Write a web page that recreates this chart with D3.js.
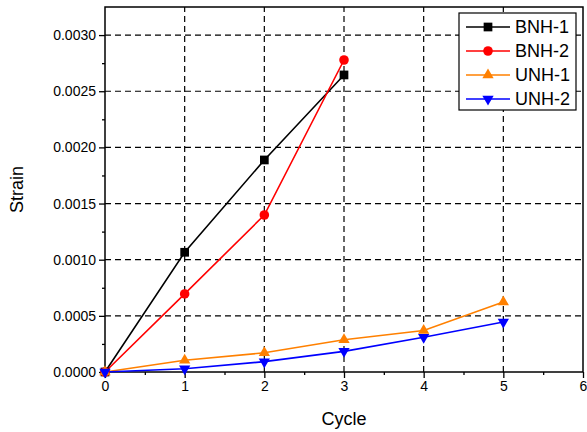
<!DOCTYPE html>
<html>
<head>
<meta charset="utf-8">
<script src="https://cdn.jsdelivr.net/npm/d3@7/dist/d3.min.js"></script>
<style>
  html, body { margin: 0; padding: 0; background: #fff; }
  svg { display: block; font-family: "Liberation Sans", Arial, sans-serif; }
</style>
</head>
<body>
<svg id="chart" width="587" height="432"></svg>
<script>
// Strain per loading cycle for four specimens
const bnh1Cycles = [0, 1, 2, 3];
const bnh1Strain = [0, 0.001066, 0.001888, 0.002645];
const bnh2Cycles = [0, 1, 2, 3];
const bnh2Strain = [0, 0.000695, 0.001398, 0.002778];
const unh1Cycles = [0, 1, 2, 3, 4, 5];
const unh1Strain = [0, 0.000104, 0.000171, 0.000287, 0.00037, 0.000623];
const unh2Cycles = [0, 1, 2, 3, 4, 5];
const unh2Strain = [0, 0.0000285, 0.000092, 0.000184, 0.00031, 0.000445];

const seriesNames = ["BNH-1", "BNH-2", "UNH-1", "UNH-2"];
const xTicks = [0, 1, 2, 3, 4, 5, 6];
const yTicks = [0, 0.0005, 0.001, 0.0015, 0.002, 0.0025, 0.003];

const series = [
  { name: seriesNames[0], xs: bnh1Cycles, ys: bnh1Strain, color: "#000000", symbol: d3.symbolSquare, size: 76, rot: 0 },
  { name: seriesNames[1], xs: bnh2Cycles, ys: bnh2Strain, color: "#ff0000", symbol: d3.symbolCircle, size: 72, rot: 0 },
  { name: seriesNames[2], xs: unh1Cycles, ys: unh1Strain, color: "#ff8000", symbol: d3.symbolTriangle, size: 55, rot: 0 },
  { name: seriesNames[3], xs: unh2Cycles, ys: unh2Strain, color: "#0000ff", symbol: d3.symbolTriangle, size: 55, rot: 180 }
];

const svg = d3.select("#chart");
const plot = { left: 105, right: 583, top: 7, bottom: 372 };

const x = d3.scaleLinear().domain([0, 6]).range([plot.left, plot.right]);
const y = d3.scaleLinear().domain([0, 0.00325]).range([plot.bottom, plot.top]);

// dashed grid
const grid = svg.append("g")
  .attr("stroke", "#000").attr("stroke-width", 1.2)
  .attr("stroke-dasharray", "6,4").attr("fill", "none");
grid.selectAll("line.gx").data(xTicks.slice(1, -1)).join("line")
  .attr("class", "gx")
  .attr("x1", d => x(d)).attr("x2", d => x(d))
  .attr("y1", plot.bottom).attr("y2", plot.top);
grid.selectAll("line.gy").data(yTicks.slice(1)).join("line")
  .attr("class", "gy")
  .attr("x1", plot.left).attr("x2", plot.right)
  .attr("y1", d => y(d)).attr("y2", d => y(d));

// axes
const fmt = d3.format(".4f");
const xAxis = svg.append("g").attr("transform", `translate(0,${plot.bottom})`)
  .call(d3.axisBottom(x).tickValues(xTicks).tickSize(6).tickPadding(3).tickFormat(d3.format("d")));
const xMinor = svg.append("g").attr("transform", `translate(0,${plot.bottom})`)
  .call(d3.axisBottom(x).tickValues(d3.range(0.5, 6, 1)).tickSize(3).tickFormat(""));
const yAxis = svg.append("g").attr("transform", `translate(${plot.left},0)`)
  .call(d3.axisLeft(y).tickValues(yTicks).tickSize(6).tickPadding(3).tickFormat(fmt));
const yMinor = svg.append("g").attr("transform", `translate(${plot.left},0)`)
  .call(d3.axisLeft(y).tickValues(d3.range(0.00025, 0.00325, 0.0005)).tickSize(3).tickFormat(""));

[xAxis, xMinor, yAxis, yMinor].forEach(g => {
  g.select(".domain").remove();
  g.selectAll("line").attr("stroke", "#000").attr("stroke-width", 1.3);
  g.selectAll("text").attr("fill", "#000").style("font-size", "14px")
    .style("font-family", "'Liberation Sans', Arial, sans-serif");
});

// frame
svg.append("rect")
  .attr("x", plot.left).attr("y", plot.top)
  .attr("width", plot.right - plot.left).attr("height", plot.bottom - plot.top)
  .attr("fill", "none").attr("stroke", "#000").attr("stroke-width", 1.5);

// axis titles
svg.append("text")
  .attr("x", (plot.left + plot.right) / 2).attr("y", 425)
  .attr("text-anchor", "middle").style("font-size", "18px").text("Cycle");
svg.append("text")
  .attr("transform", `translate(23,${(plot.top + plot.bottom) / 2}) rotate(-90)`)
  .attr("text-anchor", "middle").style("font-size", "18px").text("Strain");

// lines and markers
const lineGen = d3.line().x(d => x(d[0])).y(d => y(d[1]));
series.forEach(s => {
  const pts = s.xs.map((v, i) => [v, s.ys[i]]);
  svg.append("path").datum(pts)
    .attr("d", lineGen).attr("fill", "none")
    .attr("stroke", s.color).attr("stroke-width", 1.6);
});
series.forEach(s => {
  const pts = s.xs.map((v, i) => [v, s.ys[i]]);
  svg.append("g").selectAll("path").data(pts).join("path")
    .attr("d", d3.symbol().type(s.symbol).size(s.size))
    .attr("transform", d => `translate(${x(d[0])},${y(d[1])}) rotate(${s.rot})`)
    .attr("fill", s.color);
});

// legend
const legend = svg.append("g");
legend.append("rect")
  .attr("x", 459).attr("y", 13).attr("width", 117).attr("height", 97)
  .attr("fill", "#fff").attr("stroke", "#000").attr("stroke-width", 1.2);
series.forEach((s, i) => {
  const cy = 27 + i * 24;
  legend.append("line")
    .attr("x1", 466).attr("x2", 510).attr("y1", cy).attr("y2", cy)
    .attr("stroke", s.color).attr("stroke-width", 1.6);
  legend.append("path")
    .attr("d", d3.symbol().type(s.symbol).size(s.size)())
    .attr("transform", `translate(488,${cy}) rotate(${s.rot})`)
    .attr("fill", s.color);
  legend.append("text")
    .attr("x", 515).attr("y", cy).attr("dy", "0.35em")
    .style("font-size", "18px").attr("fill", "#000").text(s.name);
});
</script>
</body>
</html>
